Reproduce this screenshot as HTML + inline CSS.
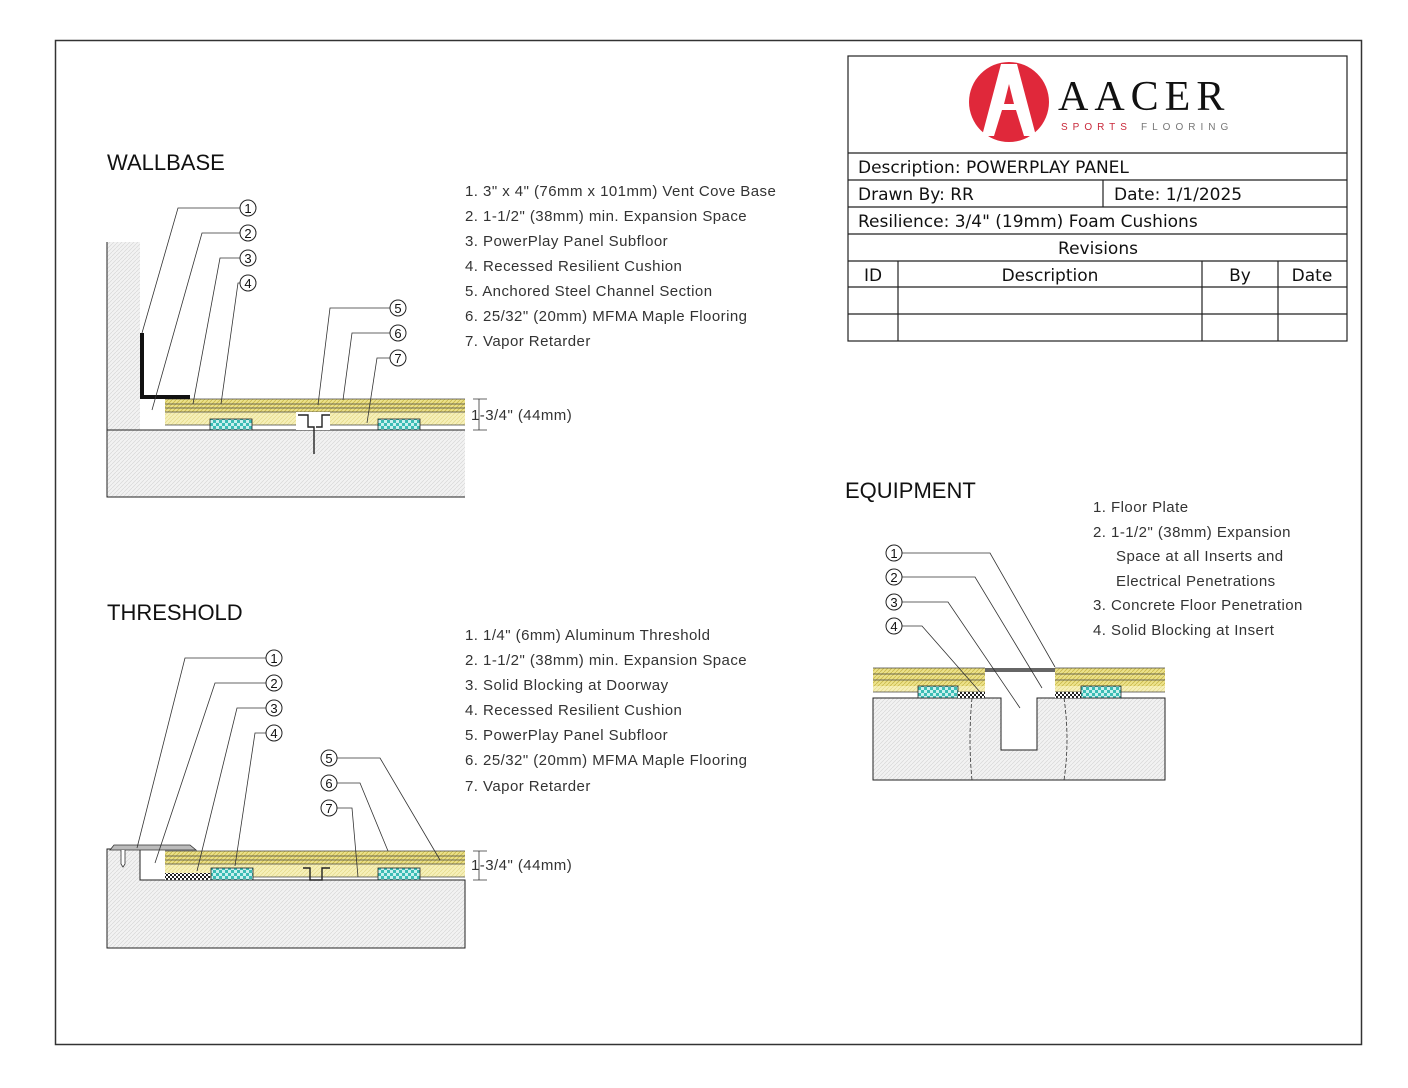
<!DOCTYPE html>
<html><head><meta charset="utf-8"><style>
html,body{margin:0;padding:0;background:#fff;}
svg{display:block;}
.t{font-family:"Liberation Sans",sans-serif;font-size:15px;fill:#333;letter-spacing:0.45px;}
.tb{font-family:"DejaVu Sans","Liberation Sans",sans-serif;font-size:17px;fill:#111;}
.h{font-family:"Liberation Sans",sans-serif;font-size:22px;fill:#111;}
.c{font-family:"Liberation Sans",sans-serif;font-size:13px;fill:#111;text-anchor:middle;}
</style></head><body>
<svg width="1408" height="1088" viewBox="0 0 1408 1088" xmlns="http://www.w3.org/2000/svg" xml:space="preserve">
<defs>
<pattern id="conc" width="4" height="4" patternUnits="userSpaceOnUse"><rect width="4" height="4" fill="#f2f2f2"/><path d="M0 4L4 0" stroke="#d8d8d8" stroke-width="0.7"/></pattern>
<pattern id="sub" width="4" height="4" patternUnits="userSpaceOnUse"><rect width="4" height="4" fill="#f6f0b8"/><path d="M0 4L4 0" stroke="#e4d98a" stroke-width="0.7"/></pattern>
<pattern id="maple" width="4" height="4" patternUnits="userSpaceOnUse"><rect width="4" height="4" fill="#ece28a"/><path d="M0 4L4 0" stroke="#c9b84a" stroke-width="0.8"/></pattern>
<pattern id="cush" width="6" height="6" patternUnits="userSpaceOnUse"><rect width="6" height="6" fill="#3bbcb4"/><rect width="3" height="3" fill="#c9f0ee"/><rect x="3" y="3" width="3" height="3" fill="#c9f0ee"/></pattern>
<pattern id="blk" width="4" height="4" patternUnits="userSpaceOnUse"><rect width="4" height="4" fill="#fff"/><rect width="2" height="2" fill="#222"/><rect x="2" y="2" width="2" height="2" fill="#222"/></pattern>
</defs>
<rect x="55.5" y="40.5" width="1306" height="1004" fill="none" stroke="#333" stroke-width="1.5"/>

<g stroke="#222" stroke-width="1.2" fill="none">
<rect x="848" y="56" width="499" height="285"/>
<line x1="848" y1="153" x2="1347" y2="153"/>
<line x1="848" y1="180" x2="1347" y2="180"/>
<line x1="848" y1="207" x2="1347" y2="207"/>
<line x1="848" y1="234" x2="1347" y2="234"/>
<line x1="848" y1="261" x2="1347" y2="261"/>
<line x1="848" y1="287" x2="1347" y2="287"/>
<line x1="848" y1="314" x2="1347" y2="314"/>
<line x1="1103" y1="180" x2="1103" y2="207"/>
<line x1="898" y1="261" x2="898" y2="341"/>
<line x1="1202" y1="261" x2="1202" y2="341"/>
<line x1="1278" y1="261" x2="1278" y2="341"/>
</g>
<text class="tb" x="858" y="173">Description: POWERPLAY PANEL</text>
<text class="tb" x="858" y="200">Drawn By: RR</text>
<text class="tb" x="1114" y="200">Date: 1/1/2025</text>
<text class="tb" x="858" y="227">Resilience: 3/4" (19mm) Foam Cushions</text>
<text class="tb" x="1098" y="254" text-anchor="middle">Revisions</text>
<text class="tb" x="873" y="281" text-anchor="middle">ID</text>
<text class="tb" x="1050" y="281" text-anchor="middle">Description</text>
<text class="tb" x="1240" y="281" text-anchor="middle">By</text>
<text class="tb" x="1312" y="281" text-anchor="middle">Date</text>
<circle cx="1009" cy="102" r="40" fill="#e0283a"/>
<path d="M1001 64 L1017 64 L1036 136 L1024 136 L1016 110 L1002 110 L994 136 L982 136 Z M1009 84 L1004 104 L1014 104 Z" fill="#fff"/>
<text x="1058" y="110" font-family="Liberation Serif,serif" font-size="42" fill="#111" letter-spacing="6">AACER</text>
<text x="1061" y="130" font-family="Liberation Sans,sans-serif" font-size="10" fill="#c8283a" letter-spacing="5">SPORTS</text>
<text x="1141" y="130" font-family="Liberation Sans,sans-serif" font-size="10" fill="#777" letter-spacing="5">FLOORING</text>

<text class="h" x="107" y="170">WALLBASE</text>
<g class="t">
<text x="465" y="196">1.  3" x 4" (76mm x 101mm) Vent Cove Base</text>
<text x="465" y="221">2.  1-1/2" (38mm) min. Expansion Space</text>
<text x="465" y="246">3.  PowerPlay Panel Subfloor</text>
<text x="465" y="271">4.  Recessed Resilient Cushion</text>
<text x="465" y="296">5.  Anchored Steel Channel Section</text>
<text x="465" y="321">6.  25/32" (20mm) MFMA Maple Flooring</text>
<text x="465" y="346">7.  Vapor Retarder</text>
</g>
<rect x="107" y="242" width="33" height="188" fill="url(#conc)"/>
<rect x="107" y="430" width="358" height="67" fill="url(#conc)"/>
<path d="M107 242V497H465M107 430H465" fill="none" stroke="#222" stroke-width="1"/>
<rect x="165" y="399" width="300" height="13" fill="url(#maple)"/>
<rect x="165" y="412" width="300" height="13" fill="url(#sub)"/>
<path d="M165 399H465M165 404H465M165 408H465M165 412H465M165 425H465" stroke="#444" stroke-width="0.8"/>
<rect x="210" y="419" width="42" height="11" fill="url(#cush)" stroke="#222" stroke-width="0.8"/>
<rect x="378" y="419" width="42" height="11" fill="url(#cush)" stroke="#222" stroke-width="0.8"/>
<rect x="296" y="412" width="34" height="18" fill="#fff"/>
<path d="M298 415H308V427H314V454M330 415H322V427H316" fill="none" stroke="#222" stroke-width="1.4"/>
<path d="M142 333V397H190" fill="none" stroke="#111" stroke-width="4"/>
<g stroke="#333" stroke-width="0.8" fill="none">
<path d="M240 208H178L142 333"/>
<path d="M240 233H202L152 410"/>
<path d="M240 258H220L193 404"/>
<path d="M240 283H238L221 404"/>
<path d="M390 308H330L318 405"/>
<path d="M390 333H352L343 400"/>
<path d="M390 358H377L367 423"/>
<path d="M473 399H487M473 430H487M479 399V430"/>
</g>
<g fill="#fff" stroke="#222" stroke-width="1">
<circle cx="248" cy="208" r="8"/><circle cx="248" cy="233" r="8"/><circle cx="248" cy="258" r="8"/><circle cx="248" cy="283" r="8"/>
<circle cx="398" cy="308" r="8"/><circle cx="398" cy="333" r="8"/><circle cx="398" cy="358" r="8"/>
</g>
<g class="c"><text x="248" y="213">1</text><text x="248" y="238">2</text><text x="248" y="263">3</text><text x="248" y="288">4</text><text x="398" y="313">5</text><text x="398" y="338">6</text><text x="398" y="363">7</text></g>
<text class="t" x="471" y="420">1-3/4" (44mm)</text>

<text class="h" x="107" y="620">THRESHOLD</text>
<g class="t">
<text x="465" y="640">1.  1/4" (6mm) Aluminum Threshold</text>
<text x="465" y="665">2.  1-1/2" (38mm) min. Expansion Space</text>
<text x="465" y="690">3.  Solid Blocking at Doorway</text>
<text x="465" y="715">4.  Recessed Resilient Cushion</text>
<text x="465" y="740">5.  PowerPlay Panel Subfloor</text>
<text x="465" y="765">6.  25/32" (20mm) MFMA Maple Flooring</text>
<text x="465" y="791">7.  Vapor Retarder</text>
</g>
<path d="M107 849H140V880H465V948H107Z" fill="url(#conc)" stroke="#222" stroke-width="1"/>
<rect x="165" y="851" width="300" height="13" fill="url(#maple)"/>
<rect x="165" y="864" width="300" height="13" fill="url(#sub)"/>
<path d="M165 851H465M165 856H465M165 860H465M165 864H465M165 877H465" stroke="#444" stroke-width="0.8"/>
<rect x="165" y="873" width="45" height="7" fill="url(#blk)"/>
<rect x="211" y="868" width="42" height="12" fill="url(#cush)" stroke="#222" stroke-width="0.8"/>
<rect x="378" y="868" width="42" height="12" fill="url(#cush)" stroke="#222" stroke-width="0.8"/>
<path d="M110 850L114 845H190L196 850Z" fill="#bbb" stroke="#333" stroke-width="0.8"/>
<path d="M121 850V864L123 867L125 864V850" fill="#fff" stroke="#333" stroke-width="0.8"/>
<path d="M303 868H310V880H322V868H330" fill="none" stroke="#222" stroke-width="1.4"/>
<g stroke="#333" stroke-width="0.8" fill="none">
<path d="M266 658H185L137 848"/>
<path d="M266 683H215L155 863"/>
<path d="M266 708H237L197 871"/>
<path d="M266 733H255L235 866"/>
<path d="M337 758H380L440 860"/>
<path d="M337 783H360L388 851"/>
<path d="M337 808H352L358 877"/>
<path d="M473 851H487M473 880H487M479 851V880"/>
</g>
<g fill="#fff" stroke="#222" stroke-width="1">
<circle cx="274" cy="658" r="8"/><circle cx="274" cy="683" r="8"/><circle cx="274" cy="708" r="8"/><circle cx="274" cy="733" r="8"/>
<circle cx="329" cy="758" r="8"/><circle cx="329" cy="783" r="8"/><circle cx="329" cy="808" r="8"/>
</g>
<g class="c"><text x="274" y="663">1</text><text x="274" y="688">2</text><text x="274" y="713">3</text><text x="274" y="738">4</text><text x="329" y="763">5</text><text x="329" y="788">6</text><text x="329" y="813">7</text></g>
<text class="t" x="471" y="870">1-3/4" (44mm)</text>

<text class="h" x="845" y="498">EQUIPMENT</text>
<g class="t">
<text x="1093" y="512">1.  Floor Plate</text>
<text x="1093" y="537">2.  1-1/2" (38mm) Expansion</text>
<text x="1116" y="561">Space at all Inserts and</text>
<text x="1116" y="586">Electrical Penetrations</text>
<text x="1093" y="610">3.  Concrete Floor Penetration</text>
<text x="1093" y="635">4.  Solid Blocking at Insert</text>
</g>
<path d="M873 698H1001V750H1037V698H1165V780H873Z" fill="url(#conc)" stroke="#222" stroke-width="1"/>
<rect x="873" y="668" width="112" height="18" fill="url(#maple)"/>
<rect x="873" y="686" width="112" height="6" fill="url(#sub)"/>
<rect x="1055" y="668" width="110" height="18" fill="url(#maple)"/>
<rect x="1055" y="686" width="110" height="6" fill="url(#sub)"/>
<path d="M873 668H985M873 674H985M873 680H985M873 692H985M1055 668H1165M1055 674H1165M1055 680H1165M1055 692H1165" stroke="#444" stroke-width="0.8"/>
<rect x="985" y="668" width="70" height="4" fill="#666"/>
<rect x="918" y="686" width="40" height="12" fill="url(#cush)" stroke="#222" stroke-width="0.8"/>
<rect x="1081" y="686" width="40" height="12" fill="url(#cush)" stroke="#222" stroke-width="0.8"/>
<rect x="958" y="692" width="27" height="6" fill="url(#blk)"/>
<rect x="1055" y="692" width="26" height="6" fill="url(#blk)"/>
<g stroke="#333" stroke-width="0.8" fill="none">
<path d="M902 553H990L1055 667"/>
<path d="M902 577H975L1042 688"/>
<path d="M902 602H948L1020 708"/>
<path d="M902 626H922L980 692"/>
<path d="M972 698Q968 740 972 780M1064 698Q1070 740 1064 780" stroke-dasharray="4 2"/>
</g>
<g fill="#fff" stroke="#222" stroke-width="1">
<circle cx="894" cy="553" r="8"/><circle cx="894" cy="577" r="8"/><circle cx="894" cy="602" r="8"/><circle cx="894" cy="626" r="8"/>
</g>
<g class="c"><text x="894" y="558">1</text><text x="894" y="582">2</text><text x="894" y="607">3</text><text x="894" y="631">4</text></g>
</svg>
</body></html>
